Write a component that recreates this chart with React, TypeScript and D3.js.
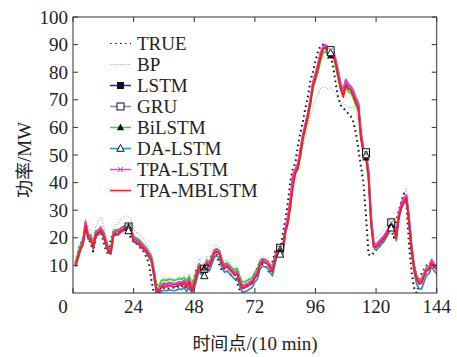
import * as d3 from 'd3';
import React from 'react';

// time index 1..144 (10 min steps)
const TRUE_V = [11, 15, 18, 20, 25.5, 20, 18, 15, 20, 22,
  22, 19, 15.5, 14, 20, 21, 21.5, 22, 22.5, 23,
  23, 22, 19.5, 18.5, 18, 17, 16, 15, 13, 11,
  5, 0, 0, 0.5, 1.5, 1.8, 2, 1.5, 1.8, 2,
  2, 2.5, 2.8, 1.5, 3.5, 0.5, 2, 5.5, 9, 8,
  7, 10, 9, 11.5, 14, 15, 13.5, 10, 8, 9,
  8, 7, 6, 6.5, 3.5, 1, 1.5, 2, 2.8, 3,
  5, 6, 9.5, 11, 10.5, 10, 8.5, 7, 11.5, 15,
  15, 14.5, 21, 26, 32, 40, 45, 47, 53, 58,
  62, 67, 71, 77, 80, 84, 87.5, 89.5, 90, 89.5,
  88, 86, 82, 76, 71, 68, 67, 66, 65, 64,
  62, 58, 52, 46, 40, 28, 14, 13.5, 14.5, 15.5,
  16.5, 17.5, 19, 20.5, 22.5, 23, 20, 26, 30, 33,
  36, 33, 18, 8, 2, 0, 3, 7, 8.5, 10,
  11, 10, 9.5, 9];

const BP_V = [12, 15, 18, 21, 27, 23, 23, 19, 24, 26,
  27.5, 25, 21, 18, 17, 24, 25, 25, 27, 27.5,
  28, 27.5, 27, 23, 22, 21.5, 20.5, 19.5, 18, 16.5,
  14.5, 10, 3.5, 3, 5, 5.5, 5, 5.5, 5.5, 5,
  5.5, 6, 5.5, 6.5, 5, 7, 3.5, 6, 9, 12.5,
  11, 10.5, 13.5, 12.5, 15, 17, 17.5, 16.5, 13, 11.5,
  12, 11, 10, 9, 9.5, 6.5, 4, 4.5, 5, 5.5,
  6, 8, 9, 12.5, 13.5, 13, 12.5, 11, 10, 14,
  17.5, 17, 17, 23, 27, 32, 39, 43, 45, 49,
  53, 56, 60, 64, 67, 70, 72, 74, 74.5, 74.5,
  74, 74.5, 73.5, 72, 70, 68.5, 69, 68, 67.5, 67,
  67.5, 66, 62, 55, 50, 48, 40, 24, 19.5, 20,
  20.5, 21.5, 23, 24.5, 26, 27.5, 27, 23, 30, 33,
  36, 38, 30, 19, 11.5, 7.5, 6, 6, 8, 10,
  10.5, 12.5, 11.5, 11];

const LSTM_V = [10.5, 13.8, 16.8, 19, 25, 21, 20.3, 17.3, 21.8, 22.3,
  23.3, 21.8, 18.8, 15.8, 15.3, 21.8, 22.3, 22.3, 23.3, 23.8,
  24.3, 23.8, 22.8, 19.8, 19.3, 18.8, 17.8, 16.8, 15.8, 14.3,
  12.8, 7.8, 1.8, 1.1, 2.8, 3.3, 3, 3.6, 3.3, 3.1,
  3.3, 3.8, 3.6, 4.3, 2.8, 4.8, 1.6, 3.8, 7.3, 10.3,
  8.8, 8.5, 11.3, 10.3, 12.8, 15.3, 15.8, 14.8, 11.3, 9.8,
  10.3, 9.3, 8.3, 7.3, 7.8, 4.8, 2.5, 2.8, 3.1, 3.8,
  4.3, 6.3, 7.3, 10.8, 12.1, 11.8, 11.3, 9.8, 8.5, 12.8,
  16.3, 16.1, 15.8, 22.8, 26, 32, 40, 44.5, 46, 51,
  57, 61, 65, 70, 76, 79, 82.5, 86.5, 88.5, 89,
  88, 87.5, 87.5, 84, 80, 75.5, 73, 77, 75.5, 74.5,
  73, 70.5, 68.5, 58, 52, 50.5, 44, 28, 18, 17.3,
  18.3, 19.3, 20.3, 21.8, 23.3, 25.3, 24.8, 21, 28.3, 31.8,
  33.8, 35, 27.5, 17.5, 10, 5.8, 4.3, 4.3, 6.8, 8.8,
  9.3, 11.6, 10.3, 9.3];

const GRU_V = [10.6, 14, 17, 19.2, 25.3, 21.2, 20.6, 17.6, 22, 22.6,
  23.6, 22.1, 19.1, 16.1, 15.6, 22.1, 22.6, 22.6, 23.6, 24.1,
  24.6, 24.1, 23.1, 20.1, 19.6, 19.1, 18.1, 17.1, 16.1, 14.6,
  13.1, 8.1, 2.1, 1.4, 3.1, 3.6, 3.3, 3.9, 3.6, 3.4,
  3.6, 4.1, 3.9, 4.6, 3.1, 5.1, 1.9, 4.1, 7.6, 10.6,
  9.1, 8.8, 11.6, 10.6, 13.1, 15.6, 16.1, 15.1, 11.6, 10.1,
  10.6, 9.6, 8.6, 7.6, 8.1, 5.1, 2.8, 3.1, 3.4, 4.1,
  4.6, 6.6, 7.6, 11.1, 12.4, 12.1, 11.6, 10.1, 8.8, 13.1,
  16.6, 16.4, 16.1, 23, 26.5, 32.5, 40.5, 44.5, 46.5, 51.5,
  57.5, 61.5, 65.5, 70.5, 76.5, 79.5, 83, 87, 89, 89.5,
  88.5, 88, 88, 85, 81, 76, 74, 77.5, 76, 75,
  73.5, 71, 69, 59, 52.5, 51, 45, 29, 18.5, 17.6,
  18.6, 19.6, 20.6, 22.1, 23.6, 25.6, 25.1, 21.3, 28.6, 32.1,
  34.1, 35.4, 28, 18, 10.3, 6.1, 4.6, 4.6, 7.1, 9.1,
  9.6, 11.9, 10.6, 9.6];

const BILSTM_V = [11, 14.5, 17.5, 19.5, 24, 21.5, 21, 18, 22.5, 23,
  23.5, 22.5, 19.5, 16.5, 16, 22.5, 23, 23, 23.5, 24,
  24.5, 24, 23, 20.5, 20, 19.5, 18.5, 17.5, 16.5, 15,
  13.5, 9, 3.5, 2.5, 4.5, 4.8, 4.5, 5, 4.8, 4.6,
  4.8, 5.2, 5, 5.5, 4.3, 6, 3, 5, 8, 10.5,
  9.5, 9.2, 12, 11, 13, 15, 15.5, 15, 12, 10.5,
  11, 10, 9, 8.5, 9, 6, 4, 4, 4.5, 5,
  5.5, 7.5, 8.5, 11.5, 12.5, 12, 11.5, 10.5, 9.5, 13,
  16, 16, 15.5, 21, 25, 30.5, 39, 43, 45, 49,
  55, 59, 63, 68, 74, 77, 80, 84, 87, 87.5,
  86.5, 86, 86, 82, 77.5, 73.5, 71.5, 74.5, 73, 72.5,
  70.5, 68, 66, 56, 50.5, 49, 41, 26, 17.5, 17,
  18, 19, 20, 21.5, 23, 24.5, 24, 20.5, 27.5, 31,
  33, 34, 26.5, 17, 10, 6.5, 5, 5, 7, 8.5,
  9, 11, 10, 9.5];

const DALSTM_V = [9.5, 12.5, 15.5, 17.5, 23.5, 19.5, 19, 16, 20.5, 21,
  22, 20.5, 17.5, 14.5, 14, 20.5, 21, 21, 22, 22.5,
  23, 22.5, 21.5, 18.5, 18, 17.5, 16.5, 15.5, 14.5, 13,
  11.5, 6, 0, 0, 0.5, 1, 0.8, 1.2, 1, 0.8,
  1, 1.5, 1.2, 2, 0.5, 2.5, 0, 1.5, 5, 8,
  6.5, 6.2, 9, 8, 10.5, 13, 13.5, 12.5, 9, 7.5,
  8, 7, 6, 5, 5.5, 2.5, 0.3, 0.5, 0.8, 1.5,
  2, 4, 5, 8.5, 9.8, 9.5, 9, 7.5, 6.2, 10.5,
  14, 14, 13.5, 21, 26.5, 33, 42, 44, 46, 51,
  56.5, 60.5, 64.5, 69.5, 75.5, 78.5, 82, 86, 88.5, 89,
  88, 87, 87, 83.5, 79, 74.5, 72, 76, 74.5, 74,
  72, 69.5, 67.5, 57, 51.5, 50, 43, 26, 16.5, 15.5,
  16.5, 17.5, 18.5, 20, 21.5, 23.5, 23, 19, 27, 30.5,
  32.5, 33.5, 25.5, 15, 8, 3.5, 1.5, 1.5, 4, 6.5,
  7, 9.5, 8, 7];

const TPALSTM_V = [10.3, 13.5, 16.5, 18.7, 26, 21, 20.5, 17.5, 22, 22.5,
  24, 22, 19, 16, 15.5, 22, 22.5, 22.5, 23.5, 24,
  24.5, 24, 23, 20, 19.5, 19, 18, 17, 16, 14.5,
  13, 8, 2, 1.3, 3, 3.5, 3.2, 3.8, 3.5, 3.3,
  3.5, 4, 3.8, 4.5, 3, 5, 1.8, 4, 7.5, 10.5,
  9, 8.7, 11.5, 10.5, 13, 15.5, 16, 15, 11.5, 10,
  10.5, 9.5, 8.5, 7.5, 8, 5, 2.7, 3, 3.3, 4,
  4.5, 6.5, 7.5, 11, 12.3, 12, 11.5, 10, 8.7, 13,
  16.5, 16.3, 16, 23, 28, 34, 43, 45, 47, 52.5,
  57, 61, 65, 70, 76.5, 79.5, 83, 87, 89.5, 90,
  89, 88, 87.5, 84, 79.5, 75, 72.5, 77, 75.5, 74.5,
  72.5, 70, 68, 57.5, 52, 50.5, 43, 27, 18, 17.5,
  18.5, 19.5, 20.5, 22, 23.5, 25.5, 25, 21, 29, 32.5,
  34.5, 35.5, 27, 17, 10, 6, 4.5, 4.5, 7, 9,
  9.5, 12, 10.5, 9.5];

const TPAMBLSTM_V = [10, 13, 16, 18, 24.5, 20, 19.5, 16.5, 21, 21.5,
  22.5, 21, 18, 15, 14.5, 21, 21.5, 21.5, 22.5, 23,
  23.5, 23, 22, 19, 18.5, 18, 17, 16, 15, 13.5,
  12, 7, 1, 0.3, 2, 2.5, 2.2, 2.8, 2.5, 2.3,
  2.5, 3, 2.8, 3.5, 2, 4, 0.8, 3, 6.5, 9.5,
  8, 7.7, 10.5, 9.5, 12, 14.5, 15, 14, 10.5, 9,
  9.5, 8.5, 7.5, 6.5, 7, 4, 1.7, 2, 2.3, 3,
  3.5, 5.5, 6.5, 10, 11.3, 11, 10.5, 9, 7.7, 12,
  15.5, 15.3, 15, 22, 25, 31, 38, 43.5, 45, 50,
  56, 60, 64, 69, 75, 78, 81.5, 85.5, 88.5, 88.7,
  87.5, 86.8, 86.8, 83, 78.5, 74, 71, 75.5, 74, 73.5,
  71.5, 69, 67, 56, 51, 49.5, 42, 25, 17, 16.5,
  17.5, 18.5, 19.5, 21, 22.5, 24.5, 24, 19.8, 27.5, 31,
  33, 34.3, 26, 16, 9, 5, 3.5, 3.5, 6, 8,
  8.5, 10.8, 9.5, 8.5];

const markerIdx = [22, 52, 82, 102, 116, 126];
const xTicks = [0, 24, 48, 72, 96, 120, 144];
const yTicks = [10, 20, 30, 40, 50, 60, 70, 80, 90, 100];

const series = [
  { name: 'TRUE', values: TRUE_V, color: '#111', width: 2, dash: '1.6 3.4', marker: 'none' },
  { name: 'BP', values: BP_V, color: '#999', width: 1, dash: '1 1.6', marker: 'none' },
  { name: 'LSTM', values: LSTM_V, color: '#1a1aff', width: 1.7, dash: null, marker: 'fsquare' },
  { name: 'GRU', values: GRU_V, color: '#a070c8', width: 1.7, dash: null, marker: 'osquare' },
  { name: 'BiLSTM', values: BILSTM_V, color: '#22dd22', width: 1.7, dash: null, marker: 'ftri' },
  { name: 'DA-LSTM', values: DALSTM_V, color: '#2a8ad0', width: 1.7, dash: null, marker: 'otri' },
  { name: 'TPA-LSTM', values: TPALSTM_V, color: '#ff33cc', width: 1.7, dash: null, marker: 'x' },
  { name: 'TPA-MBLSTM', values: TPAMBLSTM_V, color: '#ff1a1a', width: 1.8, dash: null, marker: 'none' },
];

const W = 457, H = 357;
const left = 73, right = 436.7, top = 17, bottom = 293;
const FONT = '"Liberation Serif", "Times New Roman", serif';
const CJK = '"Noto Sans CJK SC", sans-serif';

const x = d3.scaleLinear().domain([0, 144]).range([left, right]);
const y = d3.scaleLinear().domain([0, 100]).range([bottom, top]);

function Marker({ type, cx, cy }: { type: string; cx: number; cy: number }) {
  const s = 3.5;
  if (type === 'fsquare') return <rect x={cx - s} y={cy - s} width={2 * s} height={2 * s} fill="#111" />;
  if (type === 'osquare') return <rect x={cx - s} y={cy - s} width={2 * s} height={2 * s} fill="#fff" stroke="#111" strokeWidth={1} />;
  if (type === 'ftri') return <path d={`M${cx},${cy - 4}L${cx + 3.7},${cy + 2.8}L${cx - 3.7},${cy + 2.8}Z`} fill="#111" />;
  if (type === 'otri') return <path d={`M${cx},${cy - 4}L${cx + 3.7},${cy + 2.8}L${cx - 3.7},${cy + 2.8}Z`} fill="#fff" stroke="#111" strokeWidth={1} />;
  if (type === 'x') return <path d={`M${cx - 2.5},${cy - 2.5}L${cx + 2.5},${cy + 2.5}M${cx - 2.5},${cy + 2.5}L${cx + 2.5},${cy - 2.5}`} stroke="#777" strokeWidth={1} />;
  return null;
}

export default function App() {
  const line = d3.line<number>()
    .x((d, i) => x(i + 1))
    .y(d => y(d));

  const legendX = 110, legendY0 = 43.5, legendStep = 21;

  return (
    <svg width={W} height={H} style={{ position: 'absolute', left: 0, top: 0, background: '#fff' }}>
      <defs>
        <clipPath id="plot">
          <rect x={left} y={top} width={right - left} height={bottom - top} />
        </clipPath>
      </defs>
      <rect x={0} y={0} width={W} height={H} fill="#fff" />

      <g clipPath="url(#plot)">
        {series.map(s => (
          <path key={s.name} d={line(s.values) || ''} fill="none" stroke={s.color}
            strokeWidth={s.width} strokeDasharray={s.dash || undefined} strokeLinejoin="round" />
        ))}
        {series.map(s => s.marker === 'none' ? null : markerIdx.map(i => (
          <Marker key={s.name + i} type={s.marker} cx={x(i)} cy={y(s.values[i - 1])} />
        )))}
      </g>

      {/* axes box */}
      <rect x={left} y={top} width={right - left} height={bottom - top} fill="none" stroke="#333" strokeWidth={1} />
      {xTicks.map(t => (
        <g key={'x' + t}>
          <line x1={x(t)} x2={x(t)} y1={bottom} y2={bottom - 5} stroke="#333" />
          <line x1={x(t)} x2={x(t)} y1={top} y2={top + 5} stroke="#333" />
          <text x={t === 0 ? x(t) - 10 : x(t)} y={313} textAnchor="middle" fontFamily={FONT} fontSize={19} fill="#222">{t}</text>
        </g>
      ))}
      {yTicks.map(t => (
        <g key={'y' + t}>
          <line x1={left} x2={left + 5} y1={y(t)} y2={y(t)} stroke="#333" />
          <line x1={right} x2={right - 5} y1={y(t)} y2={y(t)} stroke="#333" />
          <text x={68} y={y(t) + 6.5} textAnchor="end" fontFamily={FONT} fontSize={19} fill="#222">{t}</text>
        </g>
      ))}

      {/* legend */}
      {series.map((s, k) => {
        const ly = legendY0 + k * legendStep;
        return (
          <g key={'lg' + s.name}>
            <line x1={legendX} x2={legendX + 21} y1={ly} y2={ly} stroke={s.color}
              strokeWidth={s.dash ? 1.2 : 1.5} strokeDasharray={s.dash || undefined} />
            <Marker type={s.marker} cx={legendX + 10.5} cy={ly} />
            <text x={legendX + 27} y={ly + 6.5} fontFamily={FONT} fontSize={19} fill="#222">{s.name}</text>
          </g>
        );
      })}

      <text transform="translate(31,160) rotate(-90)" textAnchor="middle" fontSize={18} fill="#222">
        <tspan fontFamily={CJK}>功率</tspan><tspan fontFamily={FONT} fontSize={19}>/MW</tspan>
      </text>
      <text x={255} y={350} textAnchor="middle" fontSize={18} fill="#222">
        <tspan fontFamily={CJK}>时间点</tspan><tspan fontFamily={FONT} fontSize={19}>/(10 min)</tspan>
      </text>
    </svg>
  );
}
